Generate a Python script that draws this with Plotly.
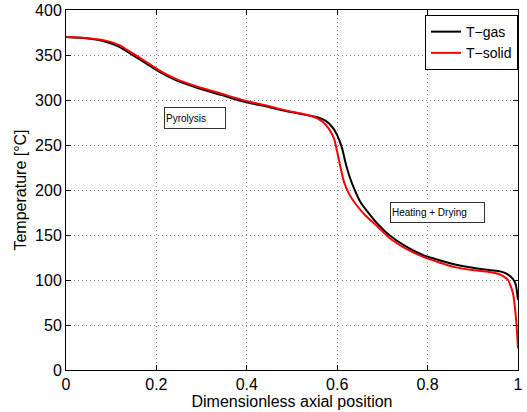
import plotly.graph_objects as go

# Data
x_gas = [0, 0.044, 0.088, 0.118, 0.147, 0.177, 0.206, 0.243, 0.293, 0.344, 0.395, 0.45,
         0.494, 0.52, 0.545, 0.561, 0.574, 0.589, 0.600, 0.611, 0.618, 0.626, 0.637,
         0.651, 0.670, 0.690, 0.715, 0.750, 0.789, 0.826, 0.863, 0.900, 0.936, 0.956,
         0.968, 0.978, 0.989, 0.995, 1.0]
t_gas = [370, 368.5, 364.8, 359, 350, 340.7, 331.5, 322, 313, 305.5, 298, 292,
         287, 284.5, 282, 280, 277, 270, 261, 246, 231, 217, 202,
         187, 174, 162, 150, 138, 128, 122, 117, 113.5, 111, 110,
         108.5, 106, 101, 95, 78]

x_solid = [0, 0.044, 0.088, 0.118, 0.147, 0.177, 0.206, 0.243, 0.293, 0.344, 0.395, 0.45,
           0.494, 0.52, 0.545, 0.556, 0.567, 0.581, 0.593, 0.600, 0.607, 0.615, 0.626,
           0.640, 0.662, 0.690, 0.715, 0.750, 0.789, 0.826, 0.863, 0.900, 0.936, 0.956,
           0.968, 0.978, 0.989, 0.996, 1.0]
t_solid = [370, 369, 366, 361, 352, 342.5, 333, 323.5, 314.5, 307, 299.5, 293,
           287.5, 285, 282, 279.5, 276, 268.5, 257, 242.5, 226, 209, 196,
           185, 172, 159, 147, 135.5, 126, 119.5, 114, 111, 109, 107,
           104, 100, 85, 55, 24]

x_ticks = [0, 0.2, 0.4, 0.6, 0.8, 1]
x_tick_labels = ["0", "0.2", "0.4", "0.6", "0.8", "1"]
y_ticks = [0, 50, 100, 150, 200, 250, 300, 350, 400]

FONT = "Liberation Sans, Arial, Helvetica, sans-serif"

fig = go.Figure()
fig.add_trace(go.Scatter(x=x_gas, y=t_gas, mode="lines", name="T\u2212gas",
                         line=dict(color="black", width=2, shape="spline", smoothing=0.6)))
fig.add_trace(go.Scatter(x=x_solid, y=t_solid, mode="lines", name="T\u2212solid",
                         line=dict(color="red", width=2, shape="spline", smoothing=0.6)))

axis_common = dict(showline=True, linecolor="black", linewidth=1, mirror="ticks",
                   ticks="inside", ticklen=5, tickcolor="black", automargin=False,
                   showgrid=True, gridcolor="#8a8a8a", gridwidth=1, griddash="1px,3px",
                   zeroline=False, tickfont=dict(family=FONT, size=16, color="black"))

fig.update_xaxes(range=[0, 1], tickvals=x_ticks, ticktext=x_tick_labels,
                 title=dict(text="Dimensionless axial position", standoff=0,
                            font=dict(family=FONT, size=16, color="black")),
                 **axis_common)
fig.update_yaxes(range=[0, 400], tickvals=y_ticks,
                 title=dict(text="Temperature [\u00b0C]", standoff=4,
                            font=dict(family=FONT, size=16, color="black")),
                 **axis_common)

fig.add_annotation(x=0.286, y=280, xref="x", yref="y", text="Pyrolysis", showarrow=False,
                   font=dict(family=FONT, size=10, color="black"), align="left",
                   width=58, height=18, bgcolor="white", bordercolor="#333", borderwidth=1,
                   borderpad=1)
fig.add_annotation(x=0.821, y=175, xref="x", yref="y", text="Heating + Drying", showarrow=False,
                   font=dict(family=FONT, size=10, color="black"), align="left",
                   width=91, height=17, bgcolor="white", bordercolor="#333", borderwidth=1,
                   borderpad=1)

fig.update_layout(
    width=527, height=412,
    margin=dict(l=66, r=9, t=10, b=42),
    paper_bgcolor="white", plot_bgcolor="white",
    font=dict(family=FONT, size=14, color="black"),
    legend=dict(x=1, y=0.986, xanchor="right", yanchor="top",
                bgcolor="white", bordercolor="black", borderwidth=1,
                font=dict(family=FONT, size=14, color="black"),
                tracegroupgap=0, itemwidth=30),
)

fig.write_html("out.html", config={"displayModeBar": False},
               post_script="document.body.style.margin='0';")
